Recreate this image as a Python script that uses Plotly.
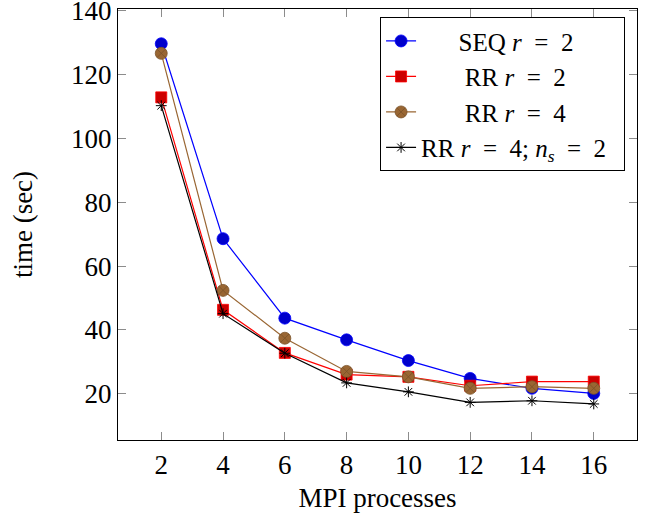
import plotly.graph_objects as go

procs = [2, 4, 6, 8, 10, 12, 14, 16]
seq_r2 = [129.7, 68.6, 43.7, 36.9, 30.4, 24.8, 21.7, 20.1]
rr_r2 = [112.9, 46.3, 32.8, 26.0, 25.3, 22.5, 23.8, 23.8]
rr_r4 = [126.7, 52.4, 37.4, 27.0, 25.3, 21.7, 22.2, 21.7]
rr_r4_ns2 = [110.3, 45.1, 32.7, 23.4, 20.6, 17.3, 17.8, 16.8]

x_ticks = [2, 4, 6, 8, 10, 12, 14, 16]
y_ticks = [20, 40, 60, 80, 100, 120, 140]

FONT = "Liberation Serif"
FS = 27
sp = "&nbsp;"
eq = sp * 2 + "=" + sp * 2

names = [
    sp * 6 + "SEQ <i>r</i>" + eq + "2",
    sp * 7 + "RR <i>r</i>" + eq + "2",
    sp * 7 + "RR <i>r</i>" + eq + "4",
    "RR <i>r</i>" + eq + "4; <i>n<sub>s</sub></i>" + eq + "2" + sp * 2,
]

fig = go.Figure()
fig.add_trace(go.Scatter(
    x=procs, y=seq_r2, mode="lines+markers", name=names[0],
    line=dict(color="#0000ff", width=1.2),
    marker=dict(symbol="circle", size=12, color="#0000cc", line=dict(color="#0000ff", width=0.8)),
))
fig.add_trace(go.Scatter(
    x=procs, y=rr_r2, mode="lines+markers", name=names[1],
    line=dict(color="#ff0000", width=1.2),
    marker=dict(symbol="square", size=11, color="#cc0000", line=dict(color="#ff0000", width=0.8)),
))
fig.add_trace(go.Scatter(
    x=procs, y=rr_r4, mode="lines+markers", name=names[2],
    line=dict(color="#996633", width=1.2),
    marker=dict(symbol="circle-x", size=12, color="#996633", line=dict(color="#7a5228", width=0.8)),
))
fig.add_trace(go.Scatter(
    x=procs, y=rr_r4_ns2, mode="lines+markers", name=names[3],
    line=dict(color="#000000", width=1.2),
    marker=dict(symbol="asterisk-open", size=9, color="#000000", line=dict(color="#000000", width=1)),
))

axis_common = dict(
    showline=True, linecolor="black", linewidth=1.2, mirror="ticks",
    ticks="inside", ticklen=8, tickwidth=1.3, tickcolor="#8c8c8c",
    showgrid=False, zeroline=False, automargin=False,
    ticklabeloverflow="allow",
    tickfont=dict(family=FONT, size=FS, color="black"),
)

fig.update_layout(
    width=649, height=513,
    margin=dict(l=118, r=12, t=9, b=73),
    paper_bgcolor="white", plot_bgcolor="white",
    font=dict(family=FONT, size=FS, color="black"),
    xaxis=dict(range=[0.6, 17.4], tickvals=x_ticks, ticktext=[str(v) for v in x_ticks],
               title=dict(text="MPI processes", font=dict(family=FONT, size=FS), standoff=10),
               **axis_common),
    yaxis=dict(range=[5.5, 140.6], tickvals=y_ticks, ticktext=[str(v) for v in y_ticks],
               title=dict(text="time (sec)", font=dict(family=FONT, size=FS), standoff=30),
               **axis_common),
    legend=dict(
        x=0.977, y=0.981, xanchor="right", yanchor="top",
        bgcolor="white", bordercolor="black", borderwidth=1,
        font=dict(family=FONT, size=25, color="black"),
        tracegroupgap=0,
    ),
    showlegend=True,
)

fig.write_html("out.html", config={"displayModeBar": False},
               post_script="document.body.style.margin='0';")
